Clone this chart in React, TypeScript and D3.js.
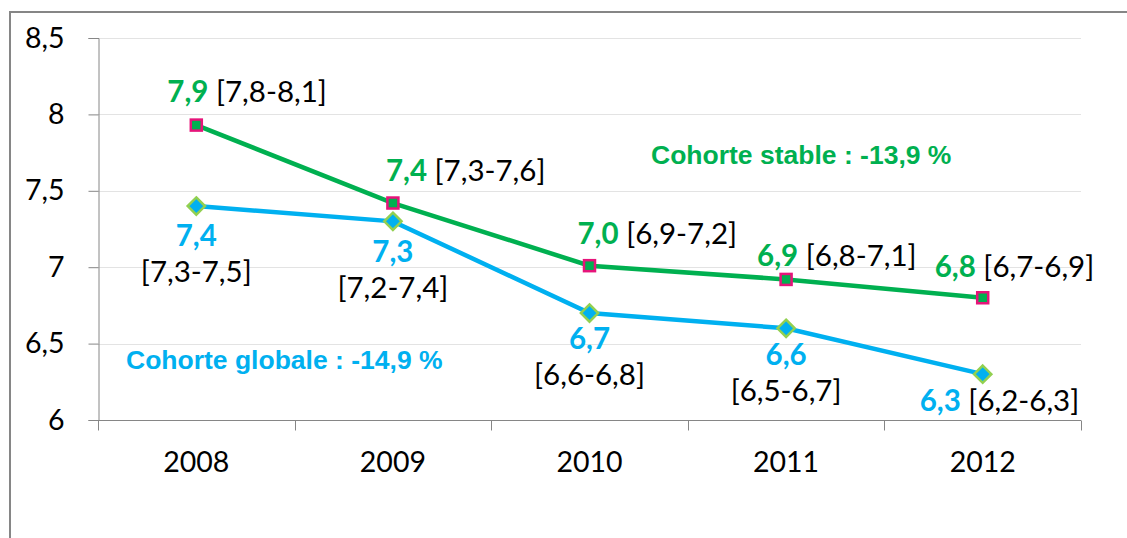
import React, { useEffect, useRef } from 'react';
import * as d3 from 'd3';

// data
const years = ['2008', '2009', '2010', '2011', '2012'];
const stable = [7.93, 7.42, 7.01, 6.92, 6.8];
const stableLabel = [7.9, 7.4, 7.0, 6.9, 6.8];
const stableLow = [7.8, 7.3, 6.9, 6.8, 6.7];
const stableHigh = [8.1, 7.6, 7.2, 7.1, 6.9];
const globale = [7.4, 7.3, 6.7, 6.6, 6.3];
const globaleLow = [7.3, 7.2, 6.6, 6.5, 6.2];
const globaleHigh = [7.5, 7.4, 6.8, 6.7, 6.3];
const yTicks = [6, 6.5, 7, 7.5, 8, 8.5];

// label placement (hand tuned, like the original)
const stableDx = [-29, -7, -12, -29, -48];
const stableDy = [-33, -32, -32, -24, -31];

const W = 1127, H = 538;
const margin = { top: 38, right: 46, bottom: 118, left: 98 };
const GREEN = '#00B050';
const BLUE = '#00B0F0';
const AXIS = '#868686';
const FONT = 'Lato, sans-serif';
const LABEL_SIZE = 29.5;

const fmt = (v: number) => d3.format('.1f')(v).replace('.', ',');

function App() {
  const ref = useRef<SVGSVGElement>(null);

  useEffect(() => {
    const svg = d3.select(ref.current);
    svg.selectAll('*').remove();

    const x = d3.scaleBand().domain(years).range([margin.left, W - margin.right]);
    const y = d3.scaleLinear().domain([6, 8.5]).range([H - margin.bottom, margin.top]);
    const cx = (i: number) => (x(years[i]) as number) + x.bandwidth() / 2;

    // outer frame
    svg.append('rect')
      .attr('x', 10).attr('y', 12).attr('width', W + 20).attr('height', H + 20)
      .attr('fill', 'white').attr('stroke', AXIS).attr('stroke-width', 2);

    // gridlines
    svg.append('g').selectAll('line').data(yTicks.filter(t => t !== 6)).join('line')
      .attr('x1', margin.left).attr('x2', W - margin.right)
      .attr('y1', d => Math.round(y(d)) + 0.5).attr('y2', d => Math.round(y(d)) + 0.5)
      .attr('stroke', '#e3e3e3');

    // y axis
    const yAxis = svg.append('g')
      .attr('transform', `translate(${margin.left + 0.5},0)`)
      .call(d3.axisLeft(y).tickValues(yTicks).tickFormat(d => String(d).replace('.', ',')).tickSize(10).tickPadding(24));
    yAxis.select('.domain').attr('stroke', AXIS);
    yAxis.selectAll('.tick line').attr('stroke', AXIS);
    yAxis.selectAll('text').attr('font-family', FONT).attr('font-size', 28.5).attr('fill', '#000');

    // x axis
    const base = Math.round(y(6)) + 0.5;
    svg.append('line')
      .attr('x1', margin.left).attr('x2', W - margin.right)
      .attr('y1', base).attr('y2', base).attr('stroke', AXIS);
    const bounds = years.map(d => x(d) as number).concat([W - margin.right]);
    svg.append('g').selectAll('line').data(bounds).join('line')
      .attr('x1', d => Math.round(d) + 0.5).attr('x2', d => Math.round(d) + 0.5)
      .attr('y1', base).attr('y2', base + 10).attr('stroke', AXIS);
    svg.append('g').selectAll('text').data(years).join('text')
      .attr('x', (d, i) => cx(i)).attr('y', base + 42)
      .attr('text-anchor', 'middle').attr('dy', '0.35em')
      .attr('font-family', FONT).attr('font-size', 28.5).attr('fill', '#000')
      .text(d => d);

    const line = d3.line<number>().x((d, i) => cx(i)).y(d => y(d));

    // globale series
    svg.append('path').datum(globale)
      .attr('fill', 'none').attr('stroke', BLUE).attr('stroke-width', 4.5)
      .attr('d', line);
    svg.append('g').selectAll('path').data(globale).join('path')
      .attr('d', d3.symbol(d3.symbolDiamond2, 190))
      .attr('transform', (d, i) => `translate(${cx(i)},${y(d)})`)
      .attr('fill', BLUE).attr('stroke', '#92D050').attr('stroke-width', 2.5);

    // stable series
    svg.append('path').datum(stable)
      .attr('fill', 'none').attr('stroke', GREEN).attr('stroke-width', 4.5)
      .attr('d', line);
    svg.append('g').selectAll('rect').data(stable).join('rect')
      .attr('x', (d, i) => cx(i) - 5.5).attr('y', d => y(d) - 5.5)
      .attr('width', 11).attr('height', 11)
      .attr('fill', GREEN).attr('stroke', '#E6147A').attr('stroke-width', 2.5);

    // stable labels
    const sl = svg.append('g').selectAll('text').data(stable).join('text')
      .attr('x', (d, i) => cx(i) + stableDx[i])
      .attr('y', (d, i) => y(d) + stableDy[i])
      .attr('dy', '0.35em')
      .attr('font-family', FONT).attr('font-size', LABEL_SIZE);
    sl.append('tspan').attr('font-weight', 'bold').attr('fill', GREEN)
      .text((d, i) => fmt(stableLabel[i]));
    sl.append('tspan').attr('fill', '#000')
      .text((d, i) => ` [${fmt(stableLow[i])}-${fmt(stableHigh[i])}]`);

    // globale labels
    const last = globale.length - 1;
    const gl = svg.append('g');
    globale.forEach((v, i) => {
      if (i === last) {
        const t = gl.append('text')
          .attr('x', cx(i) - 63).attr('y', y(v) + 27).attr('dy', '0.35em')
          .attr('font-family', FONT).attr('font-size', LABEL_SIZE);
        t.append('tspan').attr('font-weight', 'bold').attr('fill', BLUE).text(fmt(v));
        t.append('tspan').attr('fill', '#000').text(` [${fmt(globaleLow[i])}-${fmt(globaleHigh[i])}]`);
        return;
      }
      const off = i < 2 ? 30 : 26;
      gl.append('text')
        .attr('x', cx(i)).attr('y', y(v) + off).attr('dy', '0.35em')
        .attr('text-anchor', 'middle')
        .attr('font-family', FONT).attr('font-size', LABEL_SIZE).attr('font-weight', 'bold')
        .attr('fill', BLUE).text(fmt(v));
      gl.append('text')
        .attr('x', cx(i)).attr('y', y(v) + off + 36).attr('dy', '0.35em')
        .attr('text-anchor', 'middle')
        .attr('font-family', FONT).attr('font-size', LABEL_SIZE).attr('fill', '#000')
        .text(`[${fmt(globaleLow[i])}-${fmt(globaleHigh[i])}]`);
    });

    // annotations
    svg.append('text')
      .attr('x', 651).attr('y', 155).attr('dy', '0.35em')
      .attr('font-family', 'Liberation Sans, Arial, sans-serif').attr('font-size', 26.5)
      .attr('font-weight', 'bold').attr('fill', GREEN)
      .text('Cohorte stable : -13,9 %');
    svg.append('text')
      .attr('x', 126).attr('y', 360).attr('dy', '0.35em')
      .attr('font-family', 'Liberation Sans, Arial, sans-serif').attr('font-size', 26.5)
      .attr('font-weight', 'bold').attr('fill', BLUE)
      .text('Cohorte globale : -14,9 %');
  }, []);

  return (
    <svg ref={ref} width={W} height={H}
      style={{ position: 'absolute', left: 0, top: 0, background: 'white' }} />
  );
}

export default App;
